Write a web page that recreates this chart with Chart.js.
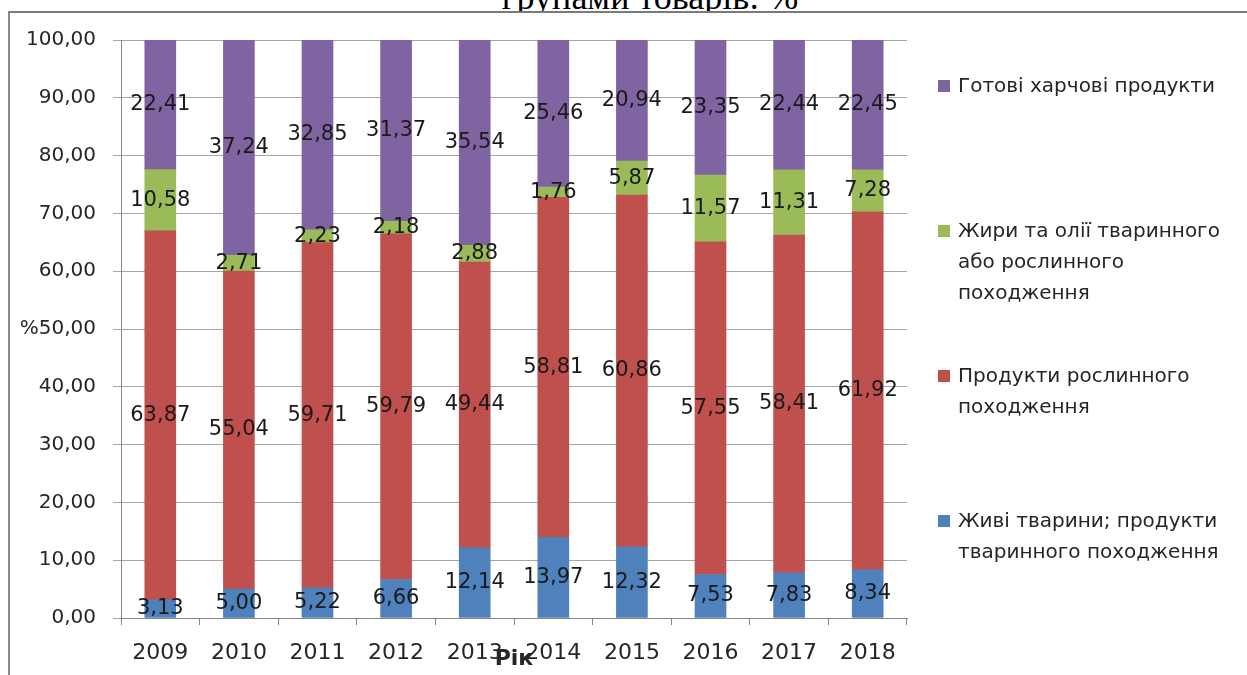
<!DOCTYPE html>
<html><head><meta charset="utf-8">
<script src="https://cdn.jsdelivr.net/npm/chart.js@4.4.1/dist/chart.umd.min.js"></script>
<style>
html,body{margin:0;padding:0;background:#fff;}
#wrap{position:relative;width:1247px;height:675px;overflow:hidden;font-family:"DejaVu Sans",sans-serif;background:#fff;}
#titleClip{position:absolute;left:0;top:0;width:1247px;height:11px;overflow:hidden;}
#title{position:absolute;left:650px;top:-21px;transform:translateX(-50%);font-family:"Liberation Serif",serif;font-size:36px;line-height:36px;white-space:nowrap;color:#000;}
#frame{position:absolute;left:8px;top:11px;width:1260px;height:700px;border-left:2px solid #8a8a8a;border-top:2px solid #7a7a7a;}
#chartBox{position:absolute;left:0;top:0;width:1247px;height:675px;}
#legend{position:absolute;left:938px;top:0;}
.item{position:absolute;left:0;width:305px;}
.sw{position:absolute;left:0;top:9.5px;width:12px;height:12px;}
.lt{position:absolute;left:20px;top:0;font-size:20px;line-height:31px;white-space:pre;color:#262626;}
</style></head><body>
<div id="wrap">
  <div id="titleClip"><div id="title">групами товарів: %</div></div>
  <div id="frame"></div>
  <div id="chartBox"><canvas id="c"></canvas></div>
  <div id="legend"></div>
</div>
<script>
const years = ['2009','2010','2011','2012','2013','2014','2015','2016','2017','2018'];
const liveAnimals = [3.13, 5.00, 5.22, 6.66, 12.14, 13.97, 12.32, 7.53, 7.83, 8.34];
const plantProducts = [63.87, 55.04, 59.71, 59.79, 49.44, 58.81, 60.86, 57.55, 58.41, 61.92];
const fatsOils = [10.58, 2.71, 2.23, 2.18, 2.88, 1.76, 5.87, 11.57, 11.31, 7.28];
const readyFood = [22.41, 37.24, 32.85, 31.37, 35.54, 25.46, 20.94, 23.35, 22.44, 22.45];
const yTickValues = [0, 10, 20, 30, 40, 50, 60, 70, 80, 90, 100];
const seriesNames = [
  'Живі тварини; продукти\nтваринного походження',
  'Продукти рослинного\nпоходження',
  'Жири та олії тваринного\nабо рослинного\nпоходження',
  'Готові харчові продукти'
];
const seriesColors = ['#4F81BD', '#C0504D', '#9BBB59', '#8064A2'];
const yAxisTitle = '%';
const xAxisTitle = 'Рік';

const fmt = v => Number(v).toFixed(2).replace('.', ',');
const FONT = '"DejaVu Sans", sans-serif';
const TEXT = '#262626';

Chart.defaults.font.family = FONT;
Chart.defaults.color = TEXT;

const valueLabels = {
  id: 'valueLabels',
  afterDatasetsDraw(chart) {
    const ctx = chart.ctx;
    ctx.save();
    ctx.font = '21px ' + FONT;
    ctx.fillStyle = '#1a1a1a';
    ctx.textAlign = 'center';
    ctx.textBaseline = 'middle';
    chart.data.datasets.forEach((ds, i) => {
      const meta = chart.getDatasetMeta(i);
      meta.data.forEach((el, j) => {
        const p = el.getProps(['x', 'y', 'base'], true);
        ctx.fillText(fmt(ds.data[j]), p.x, (p.y + p.base) / 2);
      });
    });
    ctx.restore();
  }
};

const axisTitles = {
  id: 'axisTitles',
  afterDraw(chart) {
    const ctx = chart.ctx, area = chart.chartArea, y = chart.scales.y;
    ctx.save();
    ctx.fillStyle = TEXT;
    ctx.font = '20px ' + FONT;
    ctx.textBaseline = 'middle';
    ctx.textAlign = 'right';
    const w = ctx.measureText(fmt(50)).width;
    ctx.fillText(yAxisTitle, area.left - 8 - 17 - w, y.getPixelForValue(50));
    ctx.font = 'bold 22px ' + FONT;
    ctx.textAlign = 'center';
    ctx.fillText(xAxisTitle, (area.left + area.right) / 2, area.bottom + 41);
    ctx.restore();
  }
};

const datasets = [liveAnimals, plantProducts, fatsOils, readyFood].map((d, i) => ({
  label: seriesNames[i],
  data: d,
  backgroundColor: seriesColors[i],
  borderWidth: 0,
  barThickness: 31
}));

new Chart(document.getElementById('c'), {
  type: 'bar',
  data: { labels: years, datasets },
  options: {
    responsive: true,
    maintainAspectRatio: false,
    animation: false,
    layout: { padding: { top: 40, right: 340, bottom: 0, left: 0 } },
    plugins: { legend: { display: false }, tooltip: { enabled: false }, title: { display: false } },
    scales: {
      x: {
        stacked: true,
        afterFit: s => { s.height = 57; },
        grid: { display: true, drawOnChartArea: false, drawTicks: true, tickLength: 7, color: '#868686', offset: true },
        border: { display: true, color: '#868686', width: 1 },
        ticks: { padding: 15, font: { size: 22 }, color: TEXT, maxRotation: 0 }
      },
      y: {
        stacked: true,
        min: 0, max: 100,
        afterFit: s => { s.width = 121; },
        afterBuildTicks: s => { s.ticks = yTickValues.map(v => ({ value: v })); },
        grid: { color: '#a6a6a6', drawTicks: true, tickLength: 8 },
        border: { display: true, color: '#868686', width: 1 },
        ticks: { padding: 17, font: { size: 20 }, color: TEXT, callback: v => fmt(v) }
      }
    }
  },
  plugins: [valueLabels, axisTitles]
});

// HTML legend (reverse order, as in the reference)
const legend = document.getElementById('legend');
const order = [3, 2, 1, 0];
order.forEach((idx, k) => {
  const item = document.createElement('div');
  item.className = 'item';
  item.style.top = (70 + k * 145) + 'px';
  const sw = document.createElement('div');
  sw.className = 'sw';
  sw.style.background = seriesColors[idx];
  const lt = document.createElement('div');
  lt.className = 'lt';
  lt.textContent = seriesNames[idx];
  item.appendChild(sw);
  item.appendChild(lt);
  legend.appendChild(item);
});
</script>
</body></html>
